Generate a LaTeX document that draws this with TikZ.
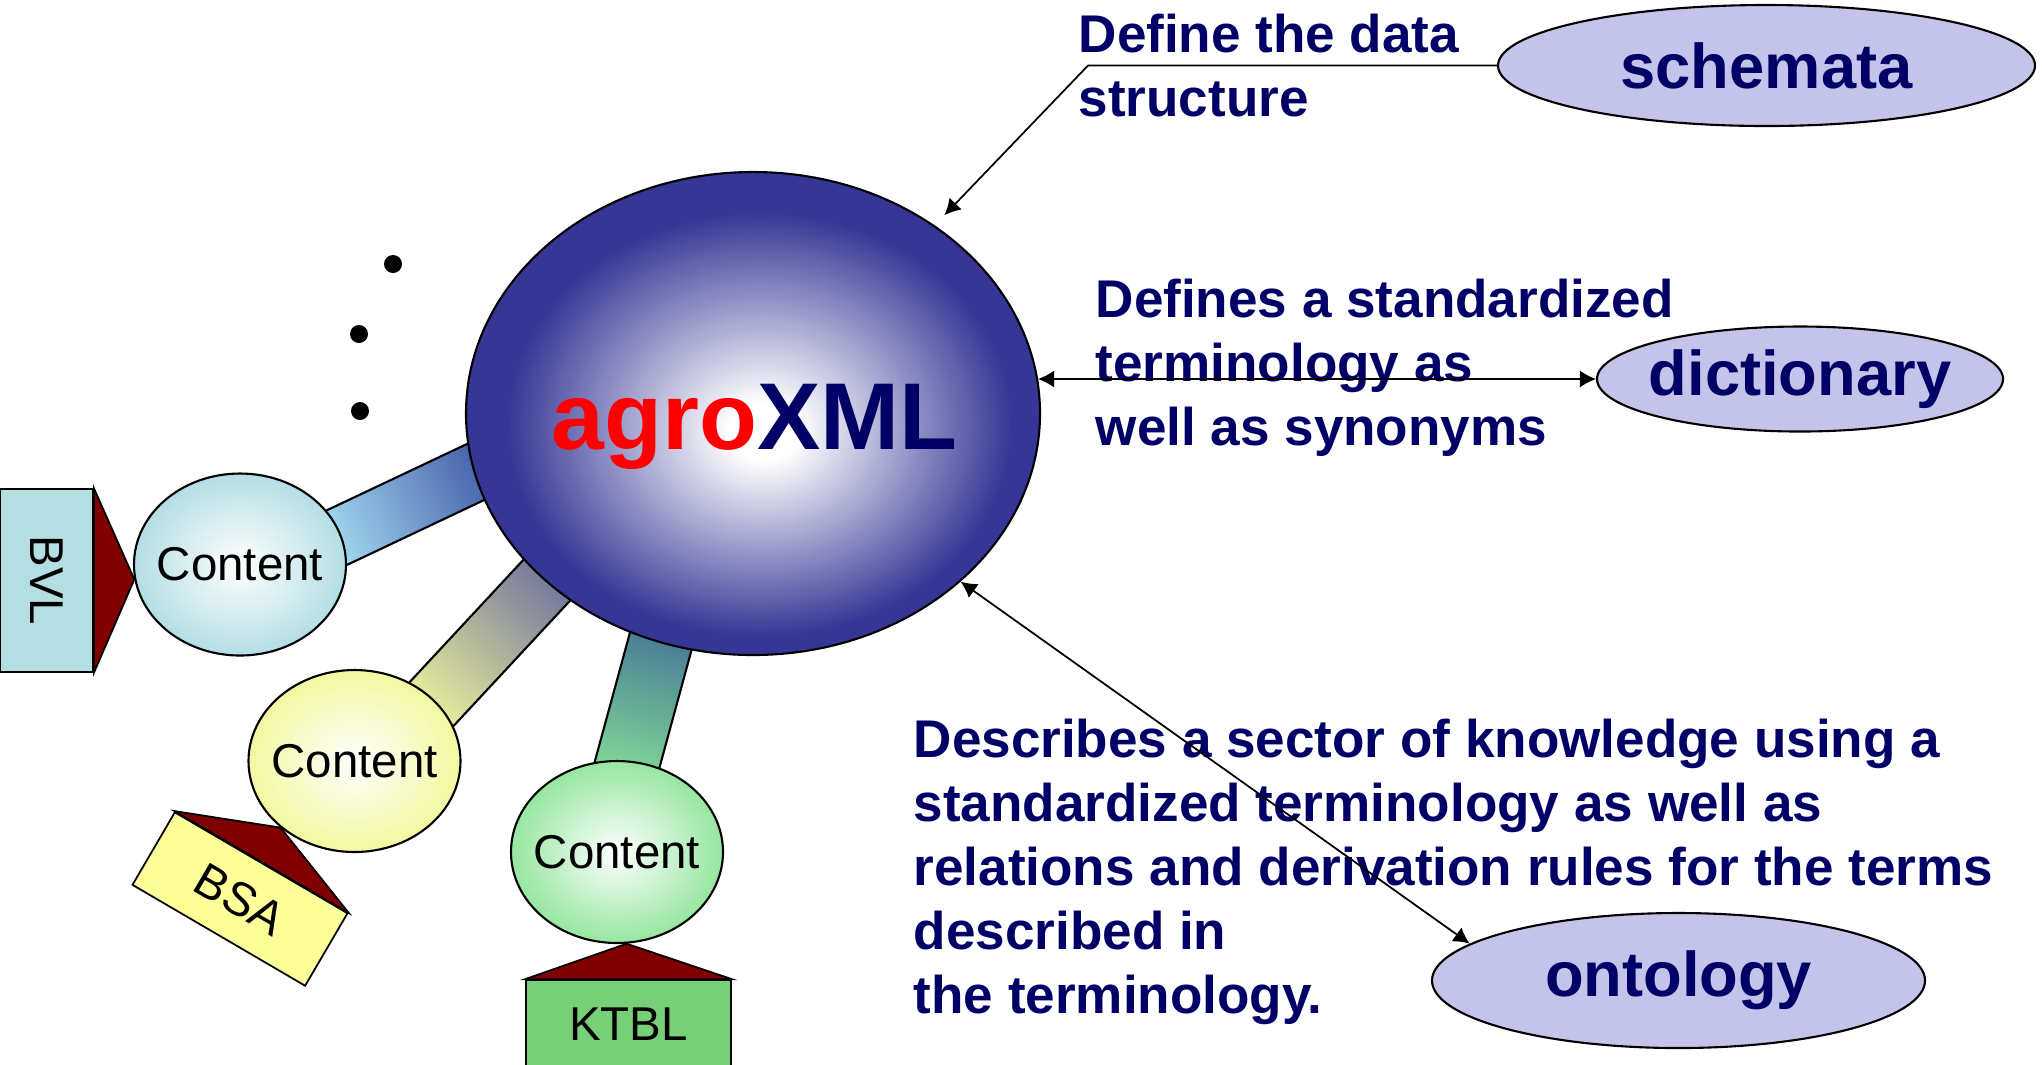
\documentclass[tikz,border=0pt]{standalone}
\usepackage{fontspec}
\setmainfont{Liberation Sans}
\usepackage{tikz}
\usetikzlibrary{shapes.geometric,arrows.meta,calc,backgrounds}
\definecolor{agronavy}{RGB}{0,0,102}
\definecolor{xmlblue}{RGB}{54,54,150}
\definecolor{termfill}{RGB}{196,196,234}
\definecolor{flagred}{RGB}{128,0,0}
\definecolor{bvlfill}{RGB}{180,222,226}
\definecolor{bsafill}{RGB}{255,255,153}
\definecolor{ktblfill}{RGB}{119,208,119}
\definecolor{cblue}{RGB}{180,222,228}
\definecolor{cyellow}{RGB}{242,248,160}
\definecolor{cgreen}{RGB}{150,230,160}
\definecolor{barbluea}{RGB}{166,222,242}
\definecolor{barblueb}{RGB}{66,90,168}
\definecolor{baryela}{RGB}{238,244,156}
\definecolor{baryelb}{RGB}{108,110,156}
\definecolor{bargrna}{RGB}{134,224,150}
\definecolor{bargrnb}{RGB}{66,112,150}
\pgfdeclareradialshading{xmlball}{\pgfpoint{1bp}{-2bp}}{color(0bp)=(white); color(3bp)=(white); color(22bp)=(xmlblue); color(25bp)=(xmlblue); color(50bp)=(xmlblue)}
\tikzstyle{sphere} = [ellipse, draw=black, line width=0.6pt, shade, shading=xmlball, minimum width=5.74cm, minimum height=4.83cm, inner sep=0pt]
\tikzstyle{cont} = [ellipse, draw=black, line width=0.6pt, inner color=white, inner xsep=-0.25cm, inner ysep=0pt, minimum width=2.12cm, minimum height=1.82cm, font=\fontsize{13.5}{16}\selectfont]
\tikzstyle{tagbox} = [rectangle, draw=black, line width=0.5pt, inner sep=0pt, font=\fontsize{13.5}{16}\selectfont]
\tikzstyle{flag} = [draw=black, line width=0.5pt, fill=flagred]
\tikzstyle{term} = [ellipse, draw=black, line width=0.6pt, fill=termfill, text=agronavy, inner xsep=-0.2cm, inner ysep=0pt, font=\bfseries\fontsize{18}{21}\selectfont]
\tikzstyle{note} = [anchor=base west, align=left, inner sep=0pt, text=agronavy, font=\bfseries\fontsize{15.1}{18.2}\selectfont]
\tikzstyle{lnk} = [line width=0.5pt, >={Latex[length=1.6mm,width=1.7mm]}]
\tikzstyle{bar} = [draw=black, line width=0.6pt]
\tikzstyle{blob} = [circle, fill=black, inner sep=0pt, minimum size=0.18cm]

\begin{document}
\begin{tikzpicture}
    \useasboundingbox (0,0) rectangle (20.42,-10.64);
    \node (AgroXML) [sphere] at (7.53,-4.135) {};
    \node (AgroLbl) [anchor=base, inner sep=0pt, text=agronavy, font=\bfseries\fontsize{27}{30}\selectfont] at (7.546,-4.49) {\textcolor{red}{agro}XML};
    \node (ContBVL) [cont, outer color=cblue] at (2.40,-5.645) {Content};
    \node (ContBSA) [cont, outer color=cyellow] at (3.545,-7.61) {Content};
    \node (ContKTBL) [cont, outer color=cgreen] at (6.17,-8.52) {Content};
    \node (TagBVL) [tagbox, fill=bvlfill, rotate=-90, minimum width=1.83cm, minimum height=0.93cm] at (0.465,-5.805) {BVL};
    \node (TagBSA) [tagbox, fill=bsafill, rotate=-30.3, minimum width=2cm, minimum height=0.84cm] at (2.40,-8.99) {BSA};
    \node (TagKTBL) [tagbox, fill=ktblfill, minimum width=2.05cm, minimum height=0.88cm] at (6.285,-10.24) {KTBL};
    \draw[flag] (TagBVL.north west) -- (ContBVL.188) -- (TagBVL.north east) -- cycle;
    \draw[flag] (TagBSA.north west) -- (ContBSA.222) -- (TagBSA.north east) -- cycle;
    \draw[flag] (TagKTBL.north west) -- (ContKTBL.276) -- (TagKTBL.north east) -- cycle;
    \node (Dot1) [blob] at (3.93,-2.64) {};
    \node (Dot2) [blob] at (3.59,-3.34) {};
    \node (Dot3) [blob] at (3.60,-4.11) {};
    \node (Schemata) [term, minimum width=5.37cm, minimum height=1.21cm] at (17.665,-0.655) {schemata};
    \node (Dictionary) [term, minimum width=4.06cm, minimum height=1.05cm] at (18.00,-3.79) {dictionary};
    \node (Ontology) [term, minimum width=4.93cm, minimum height=1.35cm] at (16.785,-9.805) {ontology};
    \node (DefTxt) [note] at (10.78,-1.16) {Define the data\\structure};
    \node (DictTxt) [note] at (10.95,-4.45) {Defines a standardized\\terminology as\\well as synonyms};
    \node (OntoTxt) [note] at (9.13,-10.13) {Describes a sector of knowledge using a\\standardized terminology as well as\\relations and derivation rules for the terms\\described in\\the terminology.};
    \coordinate (Bend) at (10.88,-0.655);
    \draw[lnk, ->, shorten >=1.4mm] (Schemata.west) -- (Bend) -- (AgroXML.46);
    \draw[lnk, <->] (AgroXML.7 |- Dictionary.west) -- (Dictionary.west);
    \draw[lnk, <->] (AgroXML.-39) -- (Ontology.170);
    \begin{scope}[on background layer]
        \coordinate (B1s) at ($(ContBVL.16)!-0.2!(AgroXML.192)$);
        \coordinate (B1e) at ($(ContBVL.16)!1.2!(AgroXML.192)$);
        \coordinate (B2s) at ($(ContBSA.37)!-0.2!(AgroXML.219)$);
        \coordinate (B2e) at ($(ContBSA.37)!1.2!(AgroXML.219)$);
        \coordinate (B3s) at ($(ContKTBL.83)!-0.25!(AgroXML.248)$);
        \coordinate (B3e) at ($(ContKTBL.83)!1.25!(AgroXML.248)$);
        \shadedraw[bar, bottom color=barbluea, top color=barblueb, shading angle=-66] ($(B1s)!0.29cm!90:(B1e)$) -- ($(B1e)!0.29cm!-90:(B1s)$) -- ($(B1e)!0.29cm!90:(B1s)$) -- ($(B1s)!0.29cm!-90:(B1e)$) -- cycle;
        \shadedraw[bar, bottom color=baryela, top color=baryelb, shading angle=-44] ($(B2s)!0.31cm!90:(B2e)$) -- ($(B2e)!0.31cm!-90:(B2s)$) -- ($(B2e)!0.31cm!90:(B2s)$) -- ($(B2s)!0.31cm!-90:(B2e)$) -- cycle;
        \shadedraw[bar, bottom color=bargrna, top color=bargrnb, shading angle=-15] ($(B3s)!0.32cm!90:(B3e)$) -- ($(B3e)!0.32cm!-90:(B3s)$) -- ($(B3e)!0.32cm!90:(B3s)$) -- ($(B3s)!0.32cm!-90:(B3e)$) -- cycle;
    \end{scope}
\end{tikzpicture}
\end{document}
